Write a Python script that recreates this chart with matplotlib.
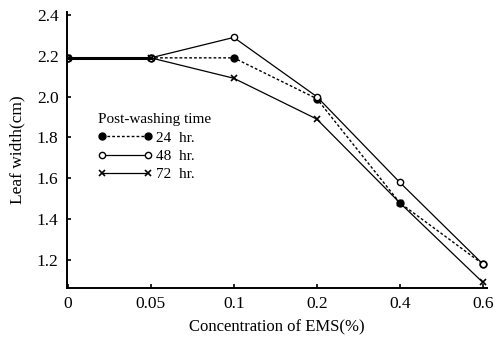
import numpy as np
import matplotlib
matplotlib.use("Agg")
import matplotlib.pyplot as plt

plt.rcParams['font.family'] = ['Liberation Serif', 'DejaVu Serif']

# data
conc_labels = ["0", "0.05", "0.1", "0.2", "0.4", "0.6"]
width_24h = [2.19, 2.19, 2.19, 1.99, 1.48, 1.18]
width_48h = [2.19, 2.19, 2.29, 2.00, 1.58, 1.18]
width_72h = [2.19, 2.19, 2.09, 1.89, 1.48, 1.09]
y_ticks = [1.2, 1.4, 1.6, 1.8, 2.0, 2.2, 2.4]

x = np.arange(len(conc_labels))

fig = plt.figure(figsize=(4.99, 3.40), dpi=100)
ax = fig.add_axes([0.134, 0.153, 0.842, 0.812])

ax.plot(x, width_24h, color="black", lw=1.0, ls=(0, (2, 1.5)), marker="o",
        ms=5, mfc="black", label="24  hr.")
ax.plot(x, width_48h, color="black", lw=0.9, marker="o", ms=4.5,
        mfc="white", mew=1.0, label="48  hr.")
ax.plot(x, width_72h, color="black", lw=0.9, marker="x", ms=4.5,
        mew=1.2, label="72  hr.")
# first segment looks heavier in the original (all three overlap)
ax.plot(x[:2], width_24h[:2], color="black", lw=2.2)

ax.set_xlim(-0.01, 5.05)
ax.set_ylim(1.063, 2.415)
ax.set_xticks(x)
ax.set_xticklabels(conc_labels)
ax.set_yticks(y_ticks)
ax.set_yticklabels([f"{v:.1f}" for v in y_ticks])

for s in ["top", "right"]:
    ax.spines[s].set_visible(False)
ax.spines["left"].set_linewidth(1.4)
ax.spines["bottom"].set_linewidth(1.4)
ax.tick_params(direction="in", length=3, width=1.2, labelsize=12.5, pad=6)

ax.set_xlabel("Concentration of EMS(%)", fontsize=12, labelpad=5)
ax.set_ylabel("Leaf width(cm)", fontsize=12.5, labelpad=8)

leg = ax.legend(title="Post-washing time", loc="upper left",
                bbox_to_anchor=(0.055, 0.66), frameon=False, fontsize=11,
                title_fontsize=11, handlelength=3.6, handletextpad=0.2,
                labelspacing=0.3, numpoints=2, alignment="left",
                borderpad=0.0)

fig.savefig("out.png", dpi=100)
